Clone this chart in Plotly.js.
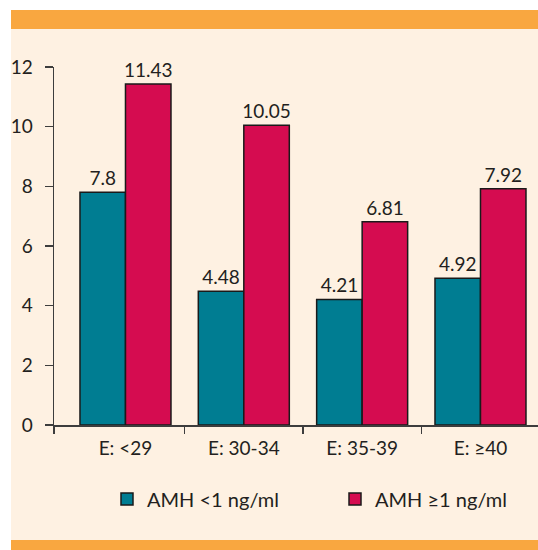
<!DOCTYPE html>
<html>
<head>
<meta charset="utf-8">
<script src="https://cdn.plot.ly/plotly-3.0.1.min.js"></script>
<style>html,body{margin:0;padding:0;background:#fff;}#chart{width:538px;height:550px;}</style>
</head>
<body>
<div id="chart"></div>
<script>
var categories = ['E: <29', 'E: 30-34', 'E: 35-39', 'E: ≥40'];
var amhLow = [7.8, 4.48, 4.21, 4.92];
var amhHigh = [11.43, 10.05, 6.81, 7.92];
var seriesNames = ['AMH <1 ng/ml', 'AMH ≥1 ng/ml'];
var yTicks = [0, 2, 4, 6, 8, 10, 12];
var boundaryTicks = [0.5, 1.5, 2.5];

var W = 538, H = 550;
var M = {l: 54, r: 0, t: 67, b: 125, autoexpand: false};
var pw = W - M.l - M.r, ph = H - M.t - M.b;
function px2x(p) { return (p - M.l) / pw; }
function py2y(p) { return (H - M.b - p) / ph; }

var xr = [-0.604, 3.486];
var font = 'Lato, "Open Sans", sans-serif';
var axisCol = '#3d3d3d';
var textCol = '#231f20';

var traces = [
  {type: 'bar', name: seriesNames[0], x: categories, y: amhLow,
   marker: {color: '#007d92', line: {color: '#1a1a1a', width: 1.5}},
   text: amhLow.map(String), textposition: 'outside', cliponaxis: false,
   constraintext: 'none',
   outsidetextfont: {family: font, size: 19, color: textCol}, hoverinfo: 'x+y'},
  {type: 'bar', name: seriesNames[1], x: categories, y: amhHigh,
   marker: {color: '#d50c50', line: {color: '#1a1a1a', width: 1.5}},
   text: amhHigh.map(String), textposition: 'outside', cliponaxis: false,
   constraintext: 'none',
   outsidetextfont: {family: font, size: 19, color: textCol}, hoverinfo: 'x+y'},
  {type: 'scatter', x: [0], y: [0], xaxis: 'x2', yaxis: 'y', mode: 'markers',
   marker: {opacity: 0}, showlegend: false, hoverinfo: 'skip'}
];

var layout = {
  width: W, height: H,
  margin: M,
  paper_bgcolor: '#ffffff',
  plot_bgcolor: 'rgba(0,0,0,0)',
  font: {family: font, size: 19, color: textCol},
  barmode: 'group',
  bargap: 0.231,
  bargroupgap: 0,
  showlegend: true,
  legend: {
    orientation: 'h', x: px2x(563), xanchor: 'right', y: py2y(499), yanchor: 'middle',
    bgcolor: 'rgba(0,0,0,0)', font: {family: font, size: 20, color: textCol},
    entrywidth: 183, entrywidthmode: 'pixels', traceorder: 'normal'
  },
  xaxis: {
    type: 'category', range: xr, fixedrange: true,
    showline: true, linecolor: axisCol, linewidth: 1.5,
    ticks: '', showgrid: false, zeroline: false,
    tickfont: {family: font, size: 19, color: textCol},
    ticklabelstandoff: 6
  },
  xaxis2: {
    overlaying: 'x', anchor: 'y', type: 'linear', range: xr,
    tickmode: 'array', tickvals: [xr[0] + 0.002].concat(boundaryTicks),
    ticks: 'outside', ticklen: 8, tickwidth: 1.5, tickcolor: axisCol,
    showticklabels: false, showline: false, showgrid: false, zeroline: false
  },
  yaxis: {
    range: [0, 12], tickmode: 'array', tickvals: yTicks,
    showline: true, linecolor: axisCol, linewidth: 1.5,
    ticks: 'outside', ticklen: 8, tickwidth: 1.5, tickcolor: axisCol,
    showgrid: false, zeroline: false,
    tickfont: {family: font, size: 19, color: textCol},
    ticklabelstandoff: 8
  },
  shapes: [
    {type: 'rect', xref: 'paper', yref: 'paper', layer: 'below',
     x0: px2x(11), x1: px2x(540), y0: py2y(540), y1: py2y(29),
     fillcolor: '#fef1e2', line: {width: 0}},
    {type: 'rect', xref: 'paper', yref: 'paper', layer: 'below',
     x0: px2x(11), x1: px2x(540), y0: py2y(29), y1: py2y(10),
     fillcolor: '#f9a740', line: {width: 0}},
    {type: 'rect', xref: 'paper', yref: 'paper', layer: 'below',
     x0: px2x(11), x1: px2x(540), y0: py2y(552), y1: py2y(540),
     fillcolor: '#f9a740', line: {width: 0}}
  ]
};

Plotly.newPlot('chart', traces, layout, {displayModeBar: false, staticPlot: true});
</script>
</body>
</html>
